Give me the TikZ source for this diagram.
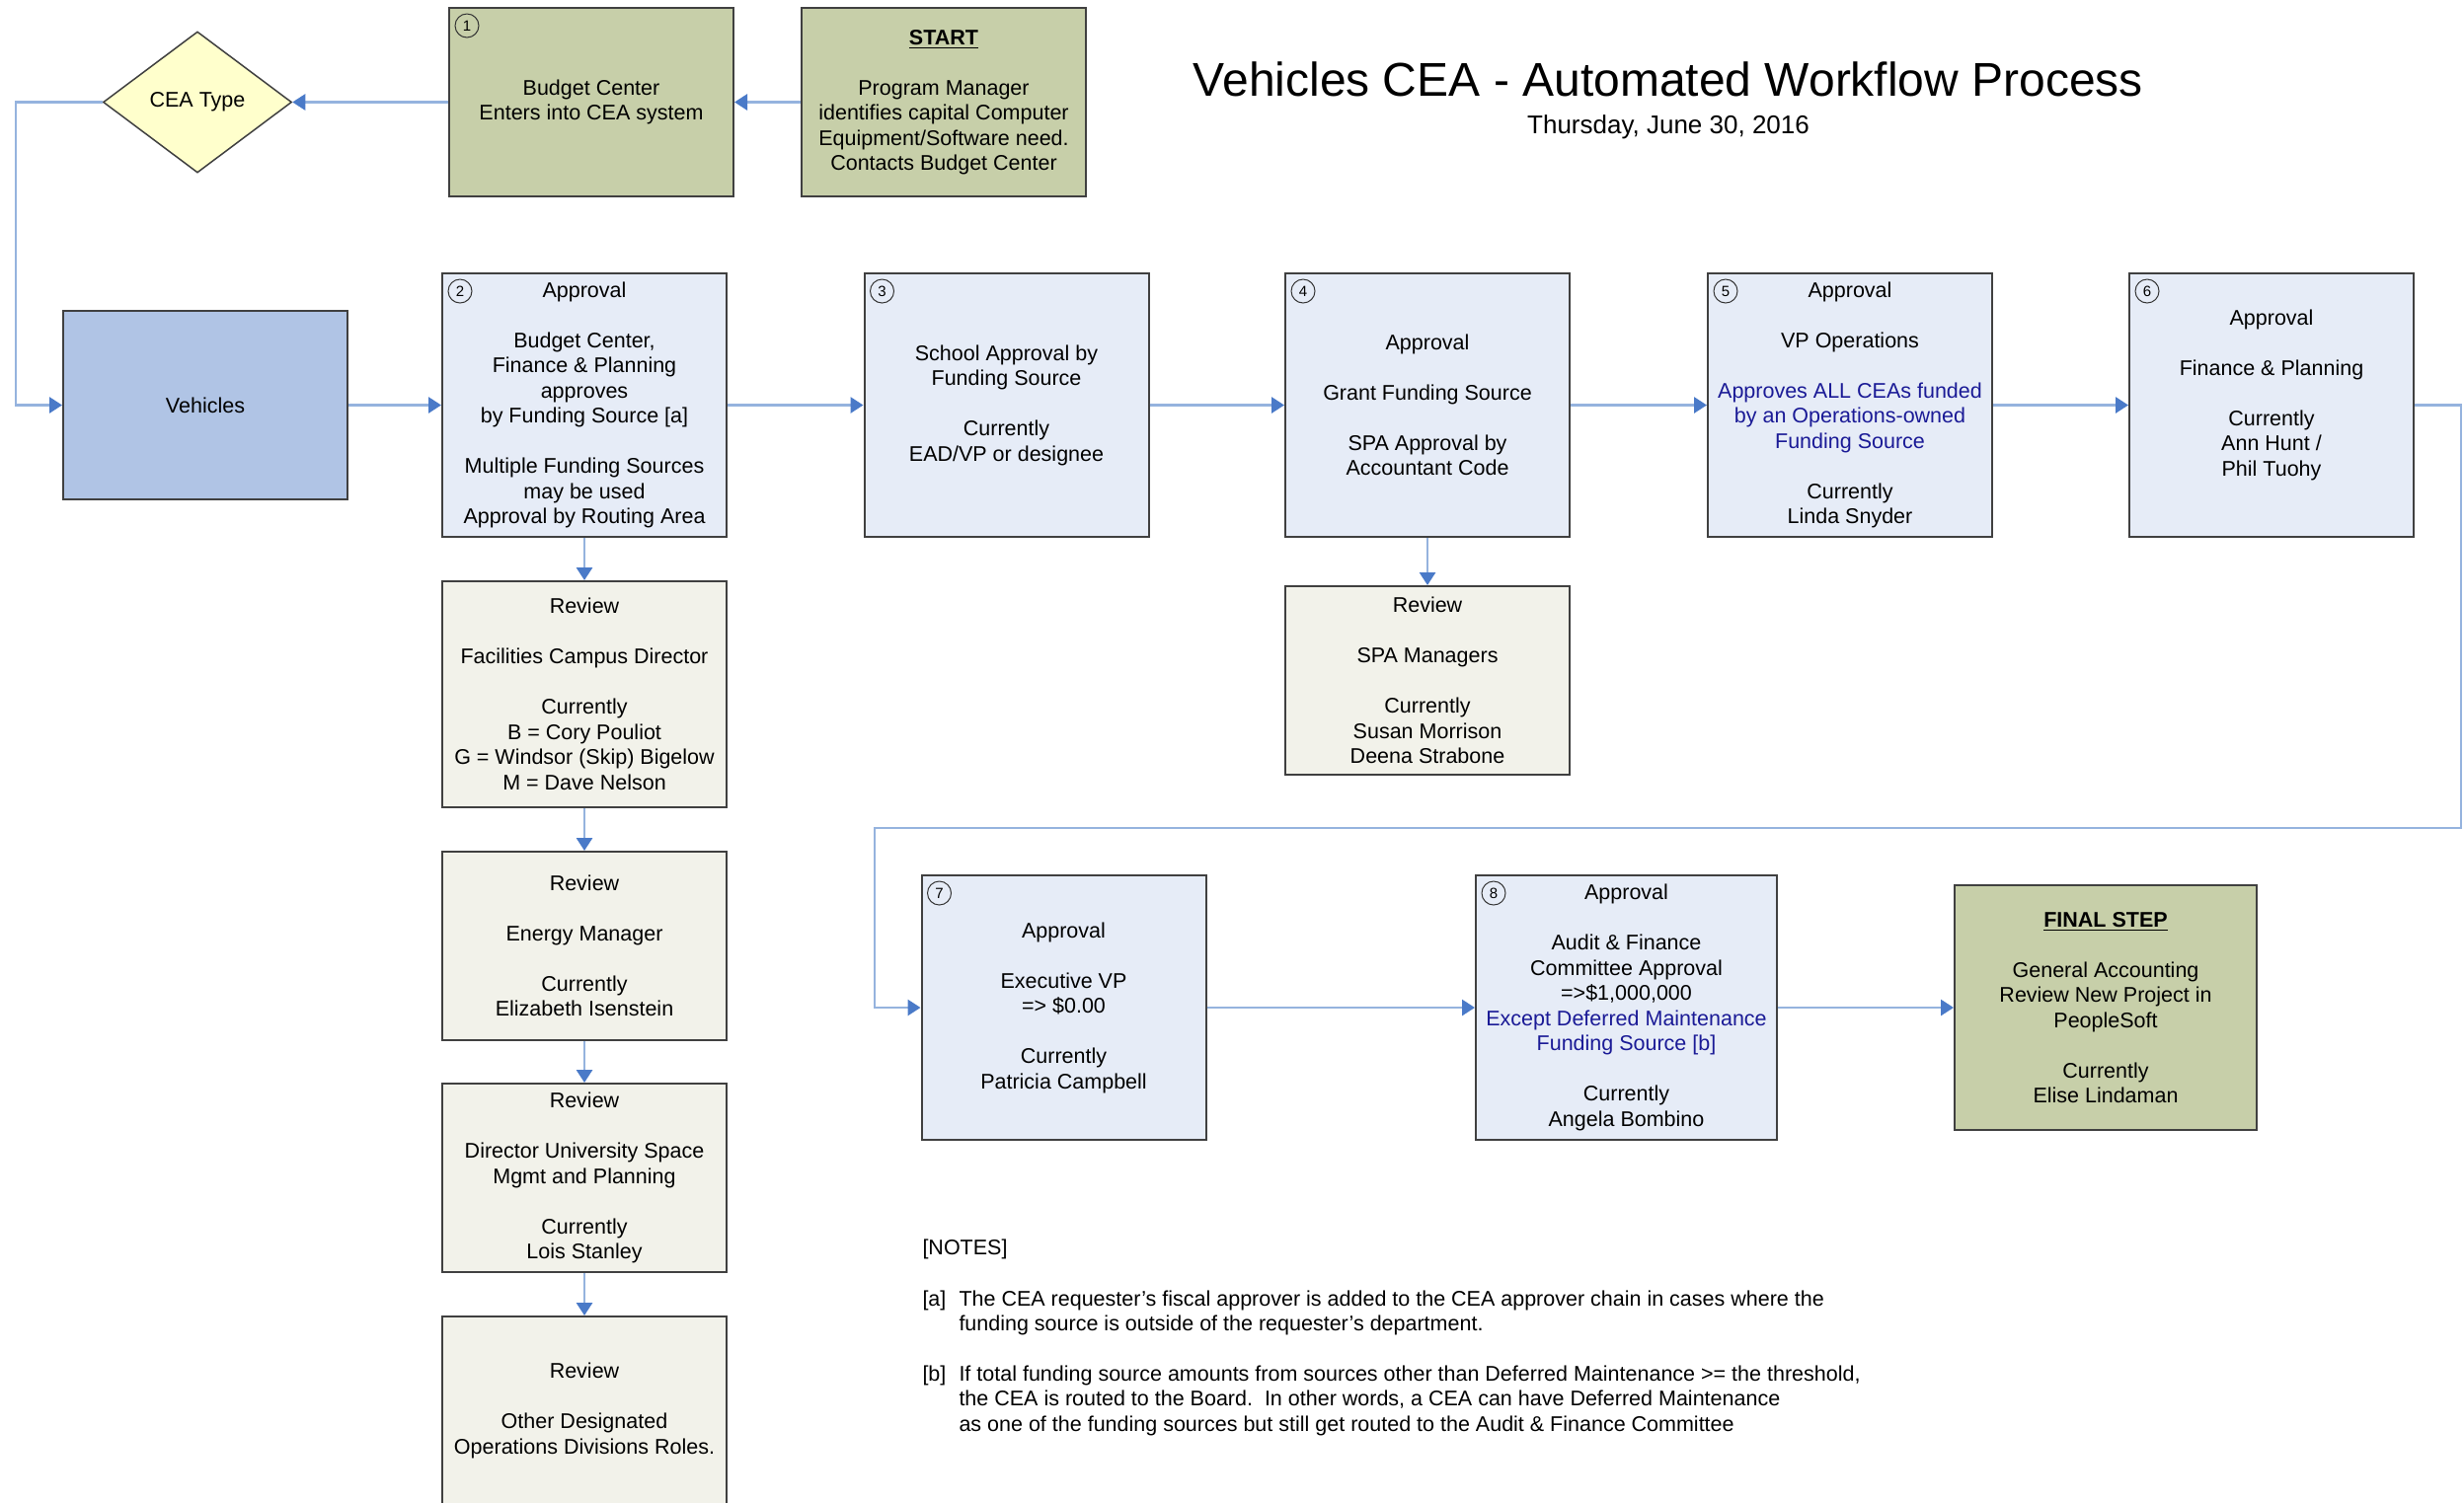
\documentclass[tikz,border=0pt]{standalone}
\usepackage{fontspec}
\setmainfont{Liberation Sans}
\usetikzlibrary{positioning,shapes.geometric,arrows.meta}
\definecolor{cea-olive}{HTML}{C7CFA9}
\definecolor{cea-blue}{HTML}{E6ECF7}
\definecolor{cea-vehicle}{HTML}{B0C4E5}
\definecolor{cea-review}{HTML}{F2F2EA}
\definecolor{cea-yellow}{HTML}{FFFFCC}
\definecolor{cea-line}{HTML}{95B3DE}
\definecolor{cea-tip}{HTML}{4A7AC8}
\definecolor{cea-navy}{HTML}{1A1A96}
\newlength{\basisworkflow}
\setlength{\basisworkflow}{0.4pt}
\newcommand{\emptyrow}{\\[10.2pt]}

\tikzset{
    stepbox/.style={draw=black!75, line width=0.8pt, minimum width=288\basisworkflow, align=center, inner sep=0pt, font=\fontsize{8.6}{10.2}\selectfont},
    numbadge/.style={circle, draw=black!80, line width=0.4pt, minimum size=24\basisworkflow, inner sep=0pt, font=\fontsize{6}{7}\selectfont},
    flow/.style={draw=cea-line, line width=1.1pt, -{Triangle[length=5.2pt, width=6.4pt, color=cea-tip]}},
    notetext/.style={align=left, inner sep=0pt, font=\fontsize{8.6}{10.2}\selectfont}
}

\begin{document}
\begin{tikzpicture}
    \useasboundingbox (0,0) rectangle (2496\basisworkflow,-1522\basisworkflow);

    % title
    \draw (1690\basisworkflow,-80\basisworkflow) 
		node[font=\fontsize{19.2}{23}\selectfont] 
			(title) {Vehicles CEA - Automated Workflow Process};
    \draw (1690\basisworkflow,-129\basisworkflow) 
		node[font=\fontsize{10.4}{12.5}\selectfont] 
			(date) {Thursday, June 30, 2016};

    % top row
    \draw (200\basisworkflow,-103.5\basisworkflow) 
		node[diamond, draw=black!75, line width=0.6pt, fill=cea-yellow, minimum width=191\basisworkflow, minimum height=143\basisworkflow, inner sep=0pt, font=\fontsize{8.6}{10.2}\selectfont] 
			(cea-type) {CEA Type};

    \draw (599\basisworkflow,-103.5\basisworkflow) 
		node[stepbox, fill=cea-olive, minimum height=191\basisworkflow] 
			(budget-center) {Budget Center\\Enters into CEA system};

    \draw (956\basisworkflow,-103.5\basisworkflow) 
		node[stepbox, fill=cea-olive, minimum height=191\basisworkflow] 
			(start) {\underline{\textbf{START}}\emptyrow Program Manager\\identifies capital Computer\\Equipment/Software need.\\Contacts Budget Center};

    % approval row
    \draw (208\basisworkflow,-410.5\basisworkflow) 
		node[stepbox, fill=cea-vehicle, minimum height=191\basisworkflow] 
			(vehicles) {Vehicles};

    \draw (592\basisworkflow,-410.5\basisworkflow) 
		node[stepbox, fill=cea-blue, minimum height=267\basisworkflow] 
			(approve-budget) {Approval\emptyrow Budget Center,\\Finance \& Planning\\approves\\by Funding Source [a]\emptyrow Multiple Funding Sources\\may be used\\Approval by Routing Area};

    \draw (1019.5\basisworkflow,-410.5\basisworkflow) 
		node[stepbox, fill=cea-blue, minimum height=267\basisworkflow] 
			(approve-school) {School Approval by\\Funding Source\emptyrow Currently\\EAD/VP or designee};

    \draw (1446\basisworkflow,-410.5\basisworkflow) 
		node[stepbox, fill=cea-blue, minimum height=267\basisworkflow] 
			(approve-grant) {Approval\emptyrow Grant Funding Source\emptyrow SPA Approval by\\Accountant Code};

    \draw (1874\basisworkflow,-410.5\basisworkflow) 
		node[stepbox, fill=cea-blue, minimum height=267\basisworkflow] 
			(approve-vp) {Approval\emptyrow VP Operations\emptyrow \textcolor{cea-navy}{Approves ALL CEAs funded}\\\textcolor{cea-navy}{by an Operations-owned}\\\textcolor{cea-navy}{Funding Source}\emptyrow Currently\\Linda Snyder};

    \draw (2301\basisworkflow,-410.5\basisworkflow) 
		node[stepbox, fill=cea-blue, minimum height=267\basisworkflow] 
			(approve-finance) {Approval\emptyrow Finance \& Planning\emptyrow Currently\\Ann Hunt /\\Phil Tuohy\\\mbox{}};

    % review boxes
    \draw (1446\basisworkflow,-689.5\basisworkflow) 
		node[stepbox, fill=cea-review, minimum height=191\basisworkflow] 
			(review-spa) {Review\emptyrow SPA Managers\emptyrow Currently\\Susan Morrison\\Deena Strabone};

    \draw (592\basisworkflow,-703.5\basisworkflow) 
		node[stepbox, fill=cea-review, minimum height=229\basisworkflow] 
			(review-facilities) {Review\emptyrow Facilities Campus Director\emptyrow Currently\\B = Cory Pouliot\\G = Windsor (Skip) Bigelow\\M = Dave Nelson};

    \draw (592\basisworkflow,-958.5\basisworkflow) 
		node[stepbox, fill=cea-review, minimum height=191\basisworkflow] 
			(review-energy) {Review\emptyrow Energy Manager\emptyrow Currently\\Elizabeth Isenstein};

    \draw (592\basisworkflow,-1193.5\basisworkflow) 
		node[stepbox, fill=cea-review, minimum height=191\basisworkflow] 
			(review-space) {Review\emptyrow Director University Space\\Mgmt and Planning\emptyrow Currently\\Lois Stanley};

    \draw (592\basisworkflow,-1429.5\basisworkflow) 
		node[stepbox, fill=cea-review, minimum height=191\basisworkflow] 
			(review-other) {Review\emptyrow Other Designated\\Operations Divisions Roles.};

    % lower row
    \draw (1077.5\basisworkflow,-1021\basisworkflow) 
		node[stepbox, fill=cea-blue, minimum height=268\basisworkflow] 
			(approve-exec) {Approval\emptyrow Executive VP\\=> \$0.00\emptyrow Currently\\Patricia Campbell};

    \draw (1647.5\basisworkflow,-1021\basisworkflow) 
		node[stepbox, fill=cea-blue, minimum width=305\basisworkflow, minimum height=268\basisworkflow] 
			(approve-audit) {Approval\emptyrow Audit \& Finance\\Committee Approval\\=>\$1,000,000\\\textcolor{cea-navy}{Except Deferred Maintenance}\\\textcolor{cea-navy}{Funding Source [b]}\emptyrow Currently\\Angela Bombino};

    \draw (2133\basisworkflow,-1021\basisworkflow) 
		node[stepbox, fill=cea-olive, minimum width=306\basisworkflow, minimum height=248\basisworkflow] 
			(final-step) {\underline{\textbf{FINAL STEP}}\emptyrow General Accounting\\Review New Project in\\PeopleSoft\emptyrow Currently\\Elise Lindaman};

    % step numbers
    \node[numbadge] (badge-1) at ([xshift=19\basisworkflow,yshift=-19\basisworkflow]budget-center.north west) {1};
    \node[numbadge] (badge-2) at ([xshift=19\basisworkflow,yshift=-19\basisworkflow]approve-budget.north west) {2};
    \node[numbadge] (badge-3) at ([xshift=19\basisworkflow,yshift=-19\basisworkflow]approve-school.north west) {3};
    \node[numbadge] (badge-4) at ([xshift=19\basisworkflow,yshift=-19\basisworkflow]approve-grant.north west) {4};
    \node[numbadge] (badge-5) at ([xshift=19\basisworkflow,yshift=-19\basisworkflow]approve-vp.north west) {5};
    \node[numbadge] (badge-6) at ([xshift=19\basisworkflow,yshift=-19\basisworkflow]approve-finance.north west) {6};
    \node[numbadge] (badge-7) at ([xshift=19\basisworkflow,yshift=-19\basisworkflow]approve-exec.north west) {7};
    \node[numbadge] (badge-8) at ([xshift=19\basisworkflow,yshift=-19\basisworkflow]approve-audit.north west) {8};

    % notes
    \draw (934\basisworkflow,-1266\basisworkflow) node[notetext, anchor=west] (notes) {[NOTES]};
    \draw (934\basisworkflow,-1305\basisworkflow) node[notetext, anchor=north west] (note-a-tag) {\strut[a]};
    \draw (971\basisworkflow,-1305\basisworkflow) node[notetext, anchor=north west] (note-a) {\strut The CEA requester’s fiscal approver is added to the CEA approver chain in cases where the\\funding source is outside of the requester’s department.};
    \draw (934\basisworkflow,-1381\basisworkflow) node[notetext, anchor=north west] (note-b-tag) {\strut[b]};
    \draw (971\basisworkflow,-1381\basisworkflow) node[notetext, anchor=north west] (note-b) {\strut If total funding source amounts from sources other than Deferred Maintenance >= the threshold,\\the CEA is routed to the Board.\ \ In other words, a CEA can have Deferred Maintenance\\as one of the funding sources but still get routed to the Audit \& Finance Committee};

    % connectors
    \coordinate (return-top) at (16\basisworkflow,-103.5\basisworkflow);
    \coordinate (loop-corner) at (2493\basisworkflow,-839\basisworkflow);
    \coordinate (loop-drop) at (886\basisworkflow,-839\basisworkflow);

    \draw[flow] (start) -- (budget-center);
    \draw[flow] (budget-center) -- (cea-type);
    \draw[flow] (cea-type.west) -- (return-top) |- (vehicles.west);
    \draw[flow] (vehicles) -- (approve-budget);
    \draw[flow] (approve-budget) -- (approve-school);
    \draw[flow] (approve-school) -- (approve-grant);
    \draw[flow] (approve-grant) -- (approve-vp);
    \draw[flow] (approve-vp) -- (approve-finance);
    \draw[flow] (approve-finance.east) -| (loop-corner) -- (loop-drop) |- (approve-exec.west);
    \draw[flow] (approve-exec) -- (approve-audit);
    \draw[flow] (approve-audit) -- (final-step);

    \draw[flow] (approve-budget) -- (review-facilities);
    \draw[flow] (review-facilities) -- (review-energy);
    \draw[flow] (review-energy) -- (review-space);
    \draw[flow] (review-space) -- (review-other);
    \draw[flow] (approve-grant) -- (review-spa);
\end{tikzpicture}
\end{document}
